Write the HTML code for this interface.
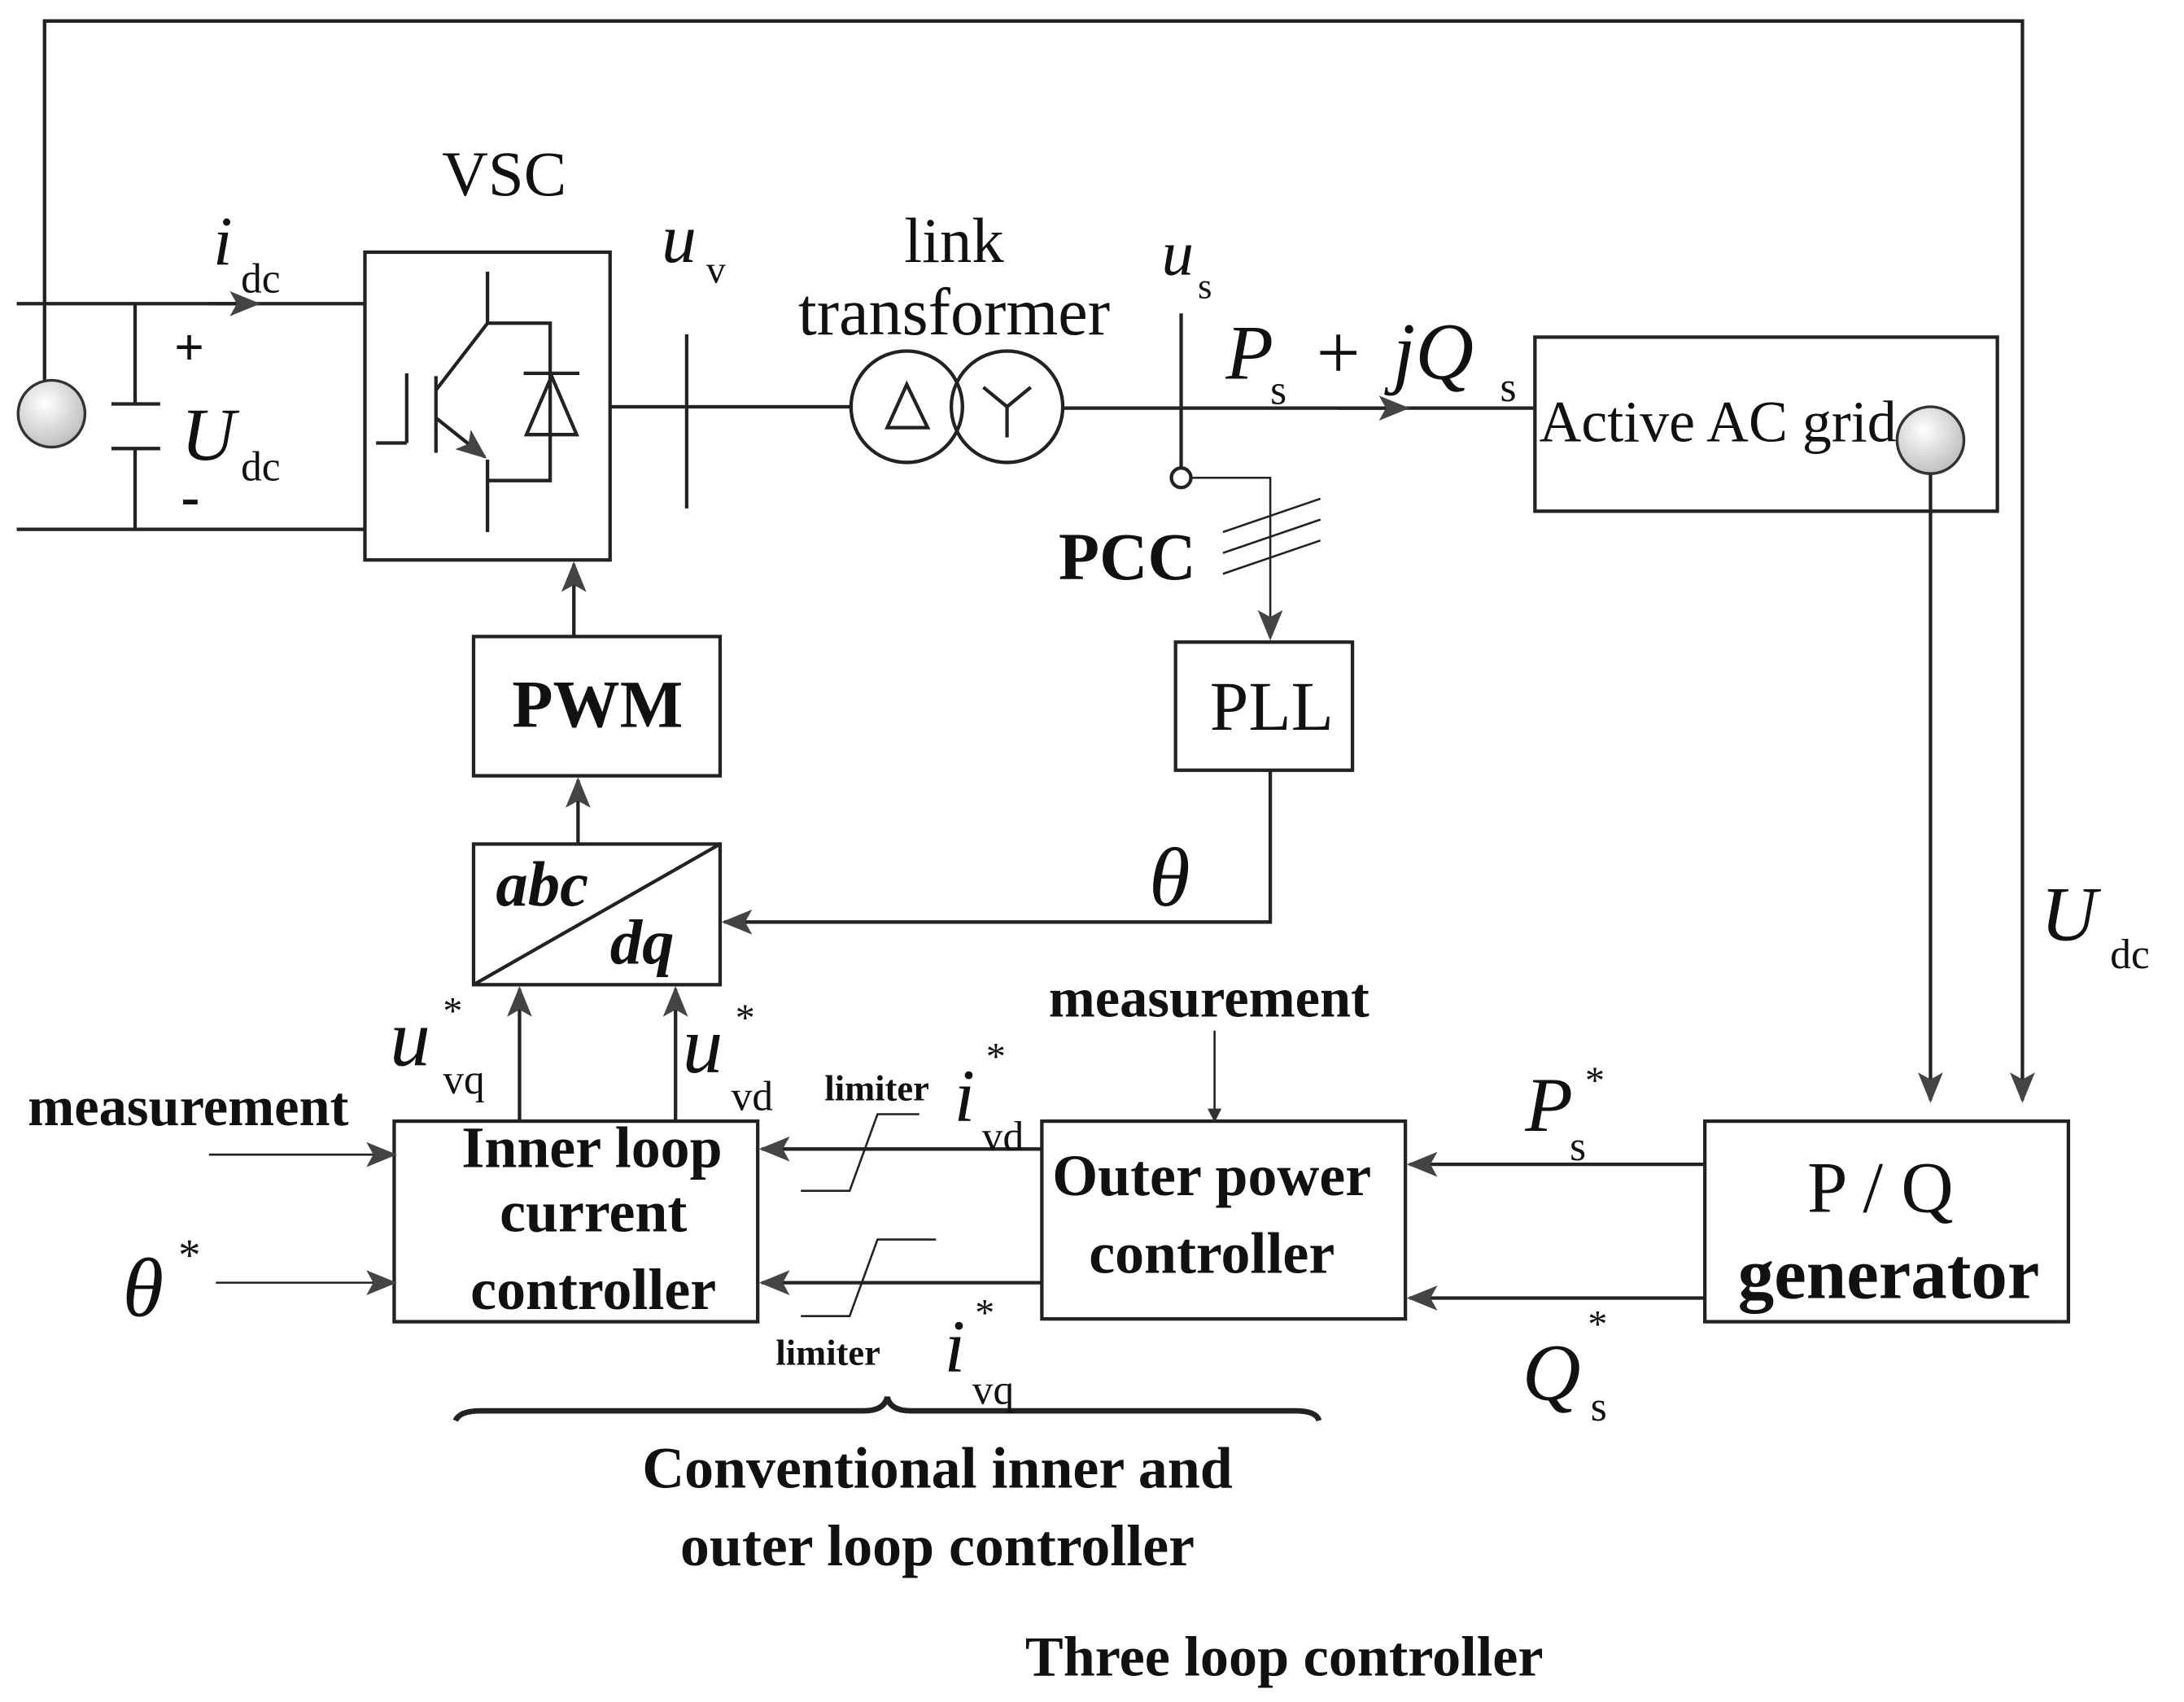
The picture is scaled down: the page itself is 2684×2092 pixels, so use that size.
<!DOCTYPE html>
<html><head><meta charset="utf-8"><style>html,body{margin:0;padding:0;background:#fff}svg{display:block}</style></head>
<body>
<svg width="2684" height="2092" viewBox="0 0 1568 1222" xmlns="http://www.w3.org/2000/svg" font-family="'Liberation Serif', serif">
<defs>
<marker id="a" markerWidth="10" markerHeight="10" refX="9" refY="5" orient="auto" markerUnits="userSpaceOnUse" viewBox="0 0 10 10"><path d="M0,0 L10,5 L0,10 Z" fill="#333"/></marker>
<marker id="b" markerWidth="22" markerHeight="18" refX="20" refY="9" orient="auto" markerUnits="userSpaceOnUse" viewBox="0 0 22 18"><path d="M0,0 L22,9 L0,18 L5,9 Z" fill="#444"/></marker>
<radialGradient id="g" cx="0.4" cy="0.35" r="0.7"><stop offset="0" stop-color="#fff"/><stop offset="1" stop-color="#bbb"/></radialGradient>
</defs>
<g fill="none" stroke="#222" stroke-width="2.5">
<polyline points="32,275 32,15 1452,15 1452,790" marker-end="url(#b)"/>
<line x1="12" y1="218" x2="262" y2="218"/>
<line x1="12" y1="380" x2="262" y2="380"/>
<line x1="150" y1="218" x2="185" y2="218" marker-end="url(#b)"/>
<line x1="97" y1="218" x2="97" y2="290"/>
<line x1="80" y1="290" x2="115" y2="290"/>
<line x1="80" y1="322" x2="115" y2="322"/>
<line x1="97" y1="322" x2="97" y2="380"/>
<rect x="262" y="181" width="176" height="221"/>
<line x1="270" y1="318" x2="292" y2="318"/>
<line x1="292" y1="318" x2="292" y2="268"/>
<line x1="313" y1="270" x2="313" y2="325"/>
<polyline points="350,195 350,232 313,280"/>
<line x1="313" y1="300" x2="348" y2="328" marker-end="url(#b)"/>
<line x1="350" y1="330" x2="350" y2="382"/>
<polyline points="350,232 395,232 395,345 350,345"/>
<line x1="376" y1="268" x2="416" y2="268"/>
<path d="M378,312 L414,312 L396,270 Z"/>
<line x1="438" y1="292" x2="612" y2="292"/>
<line x1="493" y1="240" x2="493" y2="365"/>
<circle cx="651" cy="292" r="40"/>
<circle cx="723" cy="292" r="40"/>
<path d="M637,307 L666,307 L651,276 Z"/>
<path d="M723,292 L723,314 M723,292 L706,278 M723,292 L740,278"/>
<line x1="763" y1="293" x2="1102" y2="293"/>
<line x1="960" y1="293" x2="1010" y2="293" marker-end="url(#b)"/>
<line x1="848" y1="225" x2="848" y2="336"/>
<circle cx="848" cy="343" r="7" fill="#fff"/>
<rect x="1102" y="242" width="332" height="125"/>
<polyline points="1386,340 1386,790" marker-end="url(#b)"/>
<polyline points="855,343 912,343 912,458" marker-end="url(#b)" stroke-width="1.5"/>
<line x1="878" y1="382" x2="948" y2="358" stroke-width="1.5"/>
<line x1="878" y1="397" x2="948" y2="373" stroke-width="1.5"/>
<line x1="878" y1="412" x2="948" y2="388" stroke-width="1.5"/>
<rect x="844" y="461" width="127" height="92"/>
<polyline points="912,553 912,662 520,662" marker-end="url(#b)"/>
<rect x="340" y="457" width="177" height="100"/>
<line x1="412" y1="457" x2="412" y2="405" marker-end="url(#b)"/>
<rect x="340" y="606" width="177" height="101"/>
<line x1="340" y1="707" x2="517" y2="606"/>
<line x1="415" y1="606" x2="415" y2="560" marker-end="url(#b)"/>
<rect x="283" y="805" width="261" height="144"/>
<line x1="373" y1="805" x2="373" y2="710" marker-end="url(#b)"/>
<line x1="485" y1="805" x2="485" y2="710" marker-end="url(#b)"/>
<line x1="150" y1="829" x2="283" y2="829" marker-end="url(#b)" stroke-width="1.5"/>
<line x1="155" y1="921" x2="283" y2="921" marker-end="url(#b)" stroke-width="1.5"/>
<rect x="748" y="805" width="261" height="142"/>
<line x1="872" y1="740" x2="872" y2="805" marker-end="url(#a)" stroke-width="1.5"/>
<line x1="748" y1="825" x2="547" y2="825" marker-end="url(#b)"/>
<line x1="748" y1="921" x2="547" y2="921" marker-end="url(#b)"/>
<polyline points="575,855 610,855 630,800 660,800" stroke-width="1.5"/>
<polyline points="575,945 610,945 630,890 672,890" stroke-width="1.5"/>
<rect x="1224" y="805" width="261" height="144"/>
<line x1="1224" y1="836" x2="1012" y2="836" marker-end="url(#b)"/>
<line x1="1224" y1="932" x2="1012" y2="932" marker-end="url(#b)"/>
<path d="M327,1020 Q330,1013 345,1013 L620,1013 Q635,1013 637,1003 Q639,1013 654,1013 L930,1013 Q945,1013 947,1020" stroke-width="4"/>
</g>
<circle cx="37" cy="297" r="24" fill="url(#g)" stroke="#333" stroke-width="2"/>
<circle cx="1386" cy="316" r="24" fill="url(#g)" stroke="#333" stroke-width="2"/>
<g fill="#111">
<text x="362" y="140" font-size="46" text-anchor="middle">VSC</text>
<text x="153" y="190" font-size="50" font-style="italic">i</text><text x="173" y="210" font-size="30">dc</text>
<text x="125" y="262" font-size="38" font-weight="bold">+</text>
<text x="130" y="370" font-size="40" font-weight="bold">-</text>
<text x="130" y="330" font-size="54" font-style="italic">U</text><text x="173" y="345" font-size="30">dc</text>
<text x="475" y="188" font-size="50" font-style="italic">u</text><text x="507" y="203" font-size="28">v</text>
<text x="685" y="188" font-size="46" text-anchor="middle">link</text>
<text x="685" y="240" font-size="48" text-anchor="middle">transformer</text>
<text x="834" y="197" font-size="46" font-style="italic">u</text><text x="860" y="214" font-size="26">s</text>
<text x="880" y="272" font-size="56" font-style="italic">P</text><text x="912" y="290" font-size="30">s</text>
<text x="945" y="272" font-size="56">+</text><text x="1000" y="272" font-size="58" font-style="italic">jQ</text><text x="1077" y="288" font-size="30">s</text>
<text x="1105" y="317" font-size="42">Active AC grid</text>
<text x="760" y="416" font-size="48" font-weight="bold">PCC</text>
<text x="913" y="524" font-size="50" text-anchor="middle">PLL</text>
<text x="429" y="522" font-size="48" font-weight="bold" text-anchor="middle">PWM</text>
<text x="356" y="650" font-size="46" font-weight="bold" font-style="italic">abc</text>
<text x="438" y="692" font-size="46" font-weight="bold" font-style="italic">dq</text>
<text x="825" y="650" font-size="60" font-style="italic">θ</text>
<text x="280" y="765" font-size="58" font-style="italic">u</text><text x="318" y="735" font-size="28">*</text><text x="318" y="785" font-size="30">vq</text>
<text x="490" y="770" font-size="58" font-style="italic">u</text><text x="528" y="740" font-size="28">*</text><text x="525" y="797" font-size="30">vd</text>
<text x="20" y="808" font-size="40" font-weight="bold">measurement</text>
<text x="88" y="945" font-size="60" font-style="italic">θ</text><text x="128" y="912" font-size="32">*</text>
<text x="425" y="838" font-size="42" font-weight="bold" text-anchor="middle">Inner loop</text>
<text x="426" y="884" font-size="42" font-weight="bold" text-anchor="middle">current</text>
<text x="426" y="940" font-size="42" font-weight="bold" text-anchor="middle">controller</text>
<text x="592" y="790" font-size="26" font-weight="bold">limiter</text>
<text x="685" y="805" font-size="54" font-style="italic">i</text><text x="708" y="768" font-size="28">*</text><text x="705" y="826" font-size="30">vd</text>
<text x="557" y="980" font-size="26" font-weight="bold">limiter</text>
<text x="678" y="985" font-size="54" font-style="italic">i</text><text x="700" y="952" font-size="28">*</text><text x="698" y="1008" font-size="30">vq</text>
<text x="868" y="730" font-size="40" font-weight="bold" text-anchor="middle">measurement</text>
<text x="870" y="858" font-size="42" font-weight="bold" text-anchor="middle">Outer power</text>
<text x="870" y="914" font-size="42" font-weight="bold" text-anchor="middle">controller</text>
<text x="1095" y="812" font-size="56" font-style="italic">P</text><text x="1138" y="785" font-size="28">*</text><text x="1127" y="833" font-size="30">s</text>
<text x="1093" y="1005" font-size="58" font-style="italic">Q</text><text x="1140" y="960" font-size="28">*</text><text x="1142" y="1020" font-size="30">s</text>
<text x="1350" y="870" font-size="52" text-anchor="middle">P  /  Q</text>
<text x="1356" y="932" font-size="52" font-weight="bold" text-anchor="middle">generator</text>
<text x="1465" y="675" font-size="56" font-style="italic">U</text><text x="1515" y="695" font-size="30">dc</text>
<text x="673" y="1068" font-size="42" font-weight="bold" text-anchor="middle">Conventional inner and</text>
<text x="673" y="1124" font-size="42" font-weight="bold" text-anchor="middle">outer loop controller</text>
<text x="922" y="1203" font-size="41" font-weight="bold" text-anchor="middle">Three loop controller</text>
</g>
</svg>
</body></html>
